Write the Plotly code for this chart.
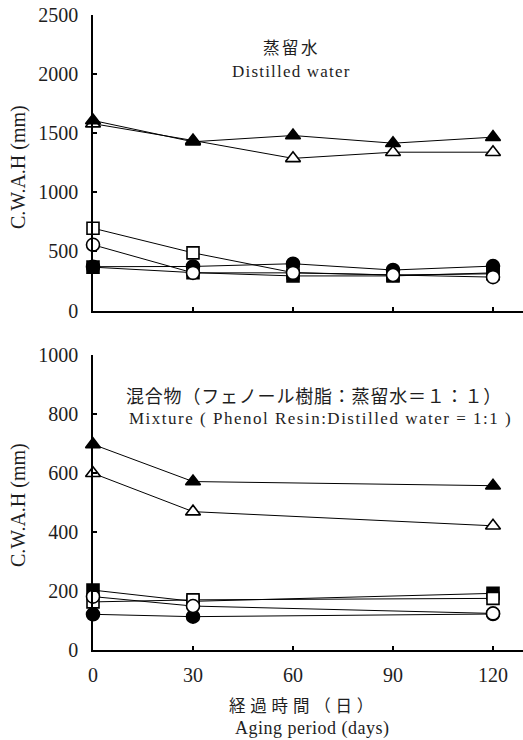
import plotly.graph_objects as go

W, H = 523, 740

days_top = [0, 30, 60, 90, 120]
days_bot = [0, 30, 120]

# Distilled water panel (C.W.A.H, mm)
top_filled_triangle = [1605, 1425, 1478, 1413, 1464]
top_open_triangle = [1578, 1436, 1285, 1337, 1337]
top_open_square = [695, 487, 320, 300, 310]
top_filled_circle = [370, 372, 395, 342, 375]
top_filled_square = [366, 320, 292, 292, 318]
top_open_circle = [555, 318, 318, 300, 282]

# Mixture panel (C.W.A.H, mm)
bot_filled_circle = [121, 113, 122]
bot_filled_square = [203, 165, 192]
bot_open_square = [163, 170, 175]
bot_open_circle = [181, 149, 124]
bot_open_triangle = [599, 469, 421]
bot_filled_triangle = [697, 571, 557]

x_ticks = [0, 30, 60, 90, 120]
y_ticks_top = [0, 500, 1000, 1500, 2000, 2500]
y_ticks_bot = [0, 200, 400, 600, 800, 1000]

SERIF = "Liberation Serif"
CJK = "Noto Sans CJK JP"
TXT = "#1e1e1e"

def sp(s, px):
    return f'<span style="letter-spacing:{px}px">{s}</span>'

styles = {
    "filled_triangle": dict(symbol="triangle-up", color="black", size=13),
    "open_triangle": dict(symbol="triangle-up", color="white", size=13),
    "filled_square": dict(symbol="square", color="black", size=12),
    "open_square": dict(symbol="square", color="white", size=12),
    "filled_circle": dict(symbol="circle", color="black", size=13),
    "open_circle": dict(symbol="circle", color="white", size=13),
}

fig = go.Figure()

def add(x, y, kind, xa, ya):
    st = styles[kind]
    fig.add_trace(go.Scatter(
        x=x, y=y, mode="lines+markers", xaxis=xa, yaxis=ya,
        line=dict(color="black", width=1),
        marker=dict(symbol=st["symbol"], size=st["size"], color=st["color"],
                    line=dict(color="black", width=1.6)),
        cliponaxis=False, showlegend=False, hoverinfo="skip"))

add(days_top, top_open_square, "open_square", "x", "y")
add(days_top, top_open_triangle, "open_triangle", "x", "y")
add(days_top, top_filled_circle, "filled_circle", "x", "y")
add(days_top, top_filled_square, "filled_square", "x", "y")
add(days_top, top_open_circle, "open_circle", "x", "y")
add(days_top, top_filled_triangle, "filled_triangle", "x", "y")

add(days_bot, bot_filled_circle, "filled_circle", "x2", "y2")
add(days_bot, bot_filled_square, "filled_square", "x2", "y2")
add(days_bot, bot_open_square, "open_square", "x2", "y2")
add(days_bot, bot_open_circle, "open_circle", "x2", "y2")
add(days_bot, bot_open_triangle, "open_triangle", "x2", "y2")
add(days_bot, bot_filled_triangle, "filled_triangle", "x2", "y2")

xdom = [93 / W, 1.0]
ydom_top = [(H - 310.5) / H, (H - 14.5) / H]
ydom_bot = [(H - 650) / H, (H - 355) / H]

axis_common = dict(showline=True, linecolor="black", linewidth=1.5,
                   ticks="inside", ticklen=4, tickwidth=1.5, tickcolor="black",
                   showgrid=False, zeroline=False, automargin=False,
                   tickfont=dict(family=SERIF, size=20, color=TXT))

fig.update_layout(
    width=W, height=H,
    font=dict(family=SERIF, color=TXT),
    margin=dict(l=0, r=0, t=0, b=0, autoexpand=False),
    paper_bgcolor="white", plot_bgcolor="white",
    xaxis=dict(domain=xdom, range=[0, 129], anchor="y",
               tickvals=x_ticks, showticklabels=False, **axis_common),
    yaxis=dict(domain=ydom_top, range=[0, 2500], anchor="x",
               tickvals=y_ticks_top, ticklabelstandoff=9, **axis_common),
    xaxis2=dict(domain=xdom, range=[0, 129], anchor="y2",
                tickvals=x_ticks, ticklabelstandoff=6, **axis_common),
    yaxis2=dict(domain=ydom_bot, range=[0, 1000], anchor="x2",
                tickvals=y_ticks_bot, ticklabelstandoff=9, **axis_common),
)

def ann(text, x, y, family, size, angle=0):
    fig.add_annotation(text=text, x=x / W, y=(H - y) / H, xref="paper", yref="paper",
                       showarrow=False, xanchor="center", yanchor="middle",
                       textangle=angle, font=dict(family=family, size=size, color=TXT))

ann(sp("蒸留水", 2.5), 291, 47, CJK, 16.5)
ann(sp("Distilled water", 1.2), 291, 71, SERIF, 17)
ann(sp("混合物（フェノール樹脂：蒸留水＝１：１）", 0.8), 314, 395, CJK, 18)
ann(sp("Mixture ( Phenol Resin:Distilled water = 1:1 )", 1.5), 320, 418, SERIF, 17)
ann(sp("経過時間（日）", 4.8), 303, 705, CJK, 16.5)
ann(sp("Aging period (days)", 0.5), 312, 728, SERIF, 18)
ann("C.W.A.H (mm)", 18, 167, SERIF, 20, -90)
ann("C.W.A.H (mm)", 18, 505, SERIF, 20, -90)

fig.write_html("out.html")
